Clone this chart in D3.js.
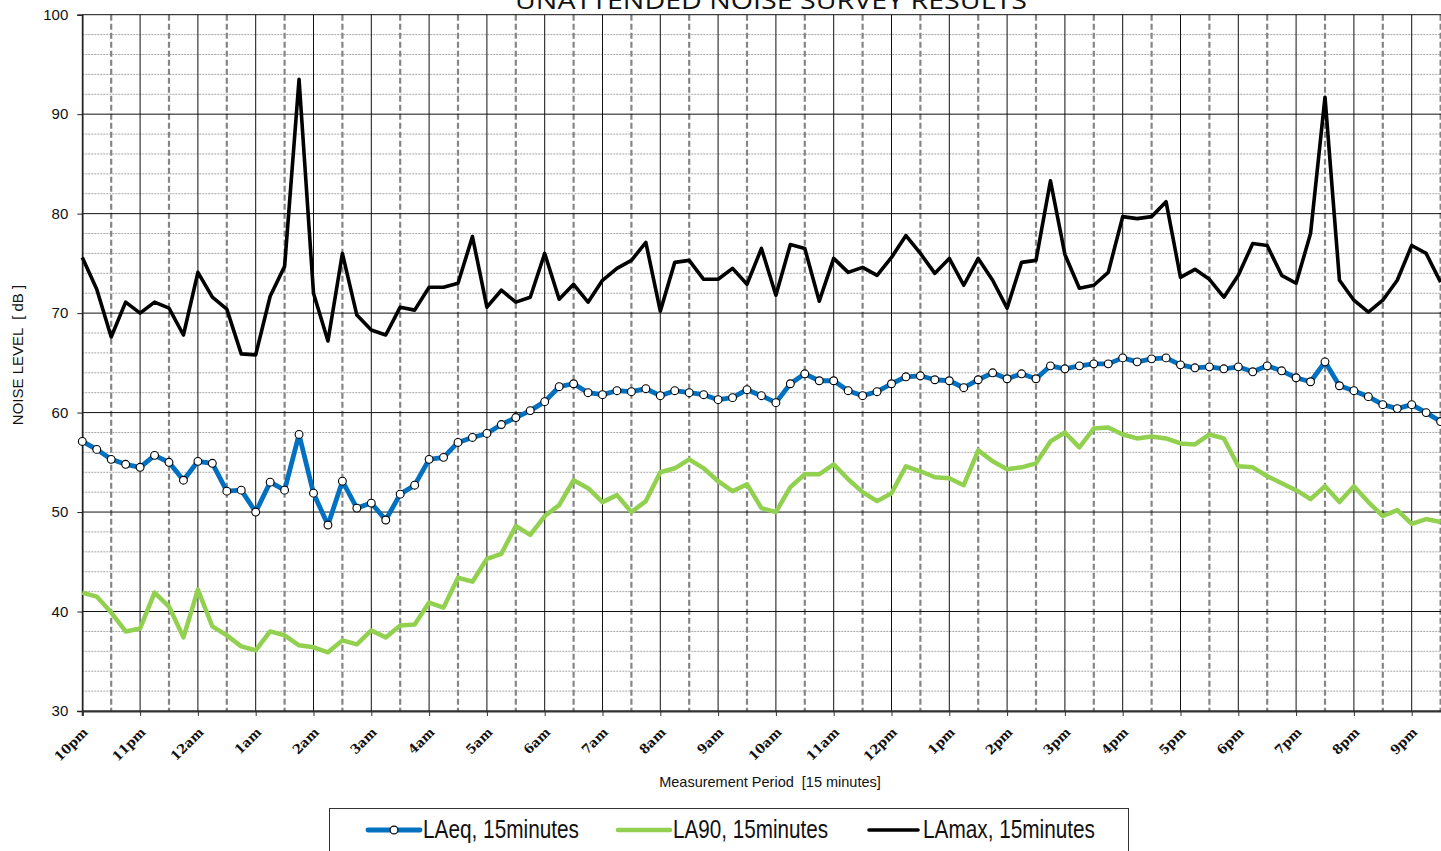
<!DOCTYPE html>
<html><head><meta charset="utf-8">
<script src="https://cdn.jsdelivr.net/npm/d3@7"></script>
<style>body{margin:0;background:#fff;overflow:hidden}svg{display:block}</style>
</head><body>
<script>
// ---- data (15-minute periods starting 10pm) ----
const hourLabels = ["10pm","11pm","12am","1am","2am","3am","4am","5am","6am","7am","8am","9am",
  "10am","11am","12pm","1pm","2pm","3pm","4pm","5pm","6pm","7pm","8pm","9pm"];
const laeq = [57.1,56.3,55.3,54.8,54.5,55.7,55.0,53.2,55.1,54.9,52.1,52.2,50.0,53.0,52.2,57.8,51.9,48.7,53.1,50.4,
  50.9,49.2,51.8,52.7,55.3,55.5,57.0,57.5,57.9,58.8,59.5,60.2,61.1,62.6,62.9,62.0,61.8,62.2,62.1,62.4,
  61.7,62.2,62.0,61.8,61.3,61.5,62.3,61.7,61.0,62.9,63.9,63.2,63.2,62.2,61.7,62.1,62.9,63.6,63.7,63.3,
  63.2,62.5,63.3,64.0,63.4,63.9,63.4,64.7,64.4,64.7,64.9,64.9,65.5,65.1,65.4,65.5,64.8,64.5,64.6,64.4,
  64.6,64.1,64.7,64.2,63.5,63.1,65.1,62.7,62.2,61.6,60.8,60.4,60.8,60.0,59.1];
const la90 = [41.9,41.5,39.9,38.0,38.3,41.9,40.5,37.4,42.2,38.5,37.6,36.5,36.1,38.0,37.6,36.6,36.4,35.9,37.1,36.7,
  38.1,37.4,38.6,38.7,40.9,40.4,43.4,43.0,45.3,45.8,48.6,47.7,49.6,50.7,53.2,52.4,51.0,51.7,50.0,51.1,
  54.0,54.4,55.3,54.4,53.1,52.1,52.8,50.4,50.0,52.5,53.8,53.8,54.8,53.3,52.0,51.1,51.9,54.6,54.1,53.5,
  53.4,52.7,56.2,55.1,54.3,54.5,54.9,57.1,58.0,56.5,58.4,58.5,57.8,57.4,57.6,57.4,56.9,56.8,57.8,57.4,
  54.6,54.5,53.6,52.9,52.2,51.3,52.6,51.0,52.6,51.0,49.6,50.2,48.8,49.3,49.0];
const lamax = [75.6,72.4,67.6,71.1,70.0,71.1,70.5,67.8,74.1,71.6,70.4,65.9,65.8,71.7,74.7,93.5,72.0,67.2,76.0,69.8,
  68.3,67.8,70.6,70.3,72.6,72.6,73.0,77.7,70.6,72.3,71.1,71.6,76.0,71.4,72.9,71.1,73.3,74.5,75.3,77.1,
  70.2,75.1,75.3,73.4,73.4,74.5,72.9,76.5,71.8,76.9,76.5,71.2,75.5,74.1,74.6,73.8,75.6,77.8,76.0,74.0,
  75.5,72.8,75.5,73.3,70.5,75.1,75.3,83.3,75.9,72.5,72.8,74.1,79.7,79.5,79.7,81.2,73.6,74.4,73.4,71.6,
  73.8,77.0,76.8,73.8,73.0,78.0,91.7,73.3,71.3,70.1,71.3,73.3,76.8,76.0,73.1];
const yTicks = [30,40,50,60,70,80,90,100];
const seriesNames = ["LAeq, 15minutes","LA90, 15minutes","LAmax, 15minutes"];

// ---- layout ----
const W = 1441, H = 851;
const svg = d3.select("body").append("svg").attr("width", W).attr("height", H);
const x = d3.scaleLinear().domain([0, 95]).range([82.3, 82.3 + 95 * 14.45]);
const y = d3.scaleLinear().domain([30, 100]).range([711, 14.7]);
const pL = x(0), pR = x(95), pT = y(100), pB = y(30);

const g = svg.append("g");
// minor horizontal grid (every 2 dB)
const minor = d3.range(30, 101, 2).filter(v => v % 10 !== 0);
g.selectAll(".hmin").data(minor).join("line")
  .attr("x1", pL).attr("x2", pR).attr("y1", d => y(d)).attr("y2", d => y(d))
  .attr("stroke", "#a6a6a6").attr("stroke-width", 1).attr("stroke-dasharray", "2,1");
// half-hour dashed verticals
const halfIdx = d3.range(0, 24).map(h => h * 4 + 2);
g.selectAll(".vhalf").data(halfIdx).join("line")
  .attr("x1", d => x(d)).attr("x2", d => x(d)).attr("y1", pT).attr("y2", pB)
  .attr("stroke", "#858585").attr("stroke-width", 2.2).attr("stroke-dasharray", "6,3");
// hour solid verticals
const hourIdx = d3.range(0, 24).map(h => h * 4);
g.selectAll(".vhour").data(hourIdx).join("line")
  .attr("x1", d => x(d)).attr("x2", d => x(d)).attr("y1", pT).attr("y2", pB)
  .attr("stroke", "#111").attr("stroke-width", 1);
// major horizontal grid
g.selectAll(".hmaj").data(yTicks).join("line")
  .attr("x1", pL).attr("x2", pR).attr("y1", d => y(d)).attr("y2", d => y(d))
  .attr("stroke", "#111").attr("stroke-width", 1);

// axes
const yAxis = d3.axisLeft(y).tickValues(yTicks).tickSize(5).tickPadding(9);
const ya = svg.append("g").attr("transform", `translate(${pL},0)`).call(yAxis);
ya.select(".domain").attr("stroke", "#222").attr("stroke-width", 1.5);
ya.selectAll("line").attr("stroke", "#222");
ya.selectAll("text").attr("font-family", "'Liberation Sans', Arial, sans-serif").attr("font-size", 15).attr("fill", "#111");

const xAxis = d3.axisBottom(x).tickValues(hourIdx).tickSize(5).tickFormat((d, i) => hourLabels[i]);
const xa = svg.append("g").attr("transform", `translate(0,${pB})`).call(xAxis);
xa.select(".domain").attr("stroke", "#333").attr("stroke-width", 2.2);
xa.selectAll("line").attr("stroke", "#333");
xa.selectAll("text")
  .attr("font-family", "'DejaVu Serif', 'Liberation Serif', serif").attr("font-weight", "bold")
  .attr("font-size", 13).attr("fill", "#111")
  .attr("text-anchor", "end").attr("dy", null).attr("y", 0)
  .attr("transform", "translate(6,22) rotate(-45)");

// lines
const line = d3.line().x((d, i) => x(i)).y(d => y(d)).curve(d3.curveLinear);
const plot = svg.append("g");
plot.append("path").datum(la90).attr("d", line).attr("fill", "none")
  .attr("stroke", "#92d050").attr("stroke-width", 4.5).attr("stroke-linejoin", "round");
plot.append("path").datum(lamax).attr("d", line).attr("fill", "none")
  .attr("stroke", "#000").attr("stroke-width", 3.6).attr("stroke-linejoin", "round");
plot.append("path").datum(laeq).attr("d", line).attr("fill", "none")
  .attr("stroke", "#0070c0").attr("stroke-width", 4.8).attr("stroke-linejoin", "round");
plot.selectAll(".mk").data(laeq).join("circle")
  .attr("cx", (d, i) => x(i)).attr("cy", d => y(d)).attr("r", 3.9)
  .attr("fill", "#fff").attr("stroke", "#000").attr("stroke-width", 1.1);

// title & axis titles
svg.append("text").attr("x", 771).attr("y", 9).attr("text-anchor", "middle")
  .attr("font-family", "'Open Sans', 'Liberation Sans', sans-serif").attr("font-size", 24)
  .attr("textLength", 512).attr("lengthAdjust", "spacingAndGlyphs")
  .attr("fill", "#111").text("UNATTENDED NOISE SURVEY RESULTS");
svg.append("text").attr("transform", "translate(23,355) rotate(-90)").attr("text-anchor", "middle")
  .attr("font-family", "'Liberation Sans', Arial, sans-serif").attr("font-size", 15).attr("fill", "#111")
  .attr("xml:space", "preserve").text("NOISE LEVEL  [ dB ]");
svg.append("text").attr("x", 770).attr("y", 787).attr("text-anchor", "middle")
  .attr("font-family", "'Liberation Sans', Arial, sans-serif").attr("font-size", 14.5).attr("fill", "#111")
  .attr("xml:space", "preserve").text("Measurement Period  [15 minutes]");

// legend
const lg = svg.append("g");
lg.append("rect").attr("x", 329.5).attr("y", 808.5).attr("width", 799).attr("height", 80)
  .attr("fill", "#fff").attr("stroke", "#333").attr("stroke-width", 1);
const legendItems = [
  {name: seriesNames[0], color: "#0070c0", w: 4.8, x0: 368, x1: 420, tx: 423, tl: 156, marker: true},
  {name: seriesNames[1], color: "#92d050", w: 4.5, x0: 618, x1: 670, tx: 673, tl: 155, marker: false},
  {name: seriesNames[2], color: "#000", w: 3.6, x0: 869, x1: 918, tx: 923, tl: 172, marker: false}
];
legendItems.forEach(it => {
  lg.append("line").attr("x1", it.x0).attr("x2", it.x1).attr("y1", 830).attr("y2", 830)
    .attr("stroke", it.color).attr("stroke-width", it.w).attr("stroke-linecap", "round");
  if (it.marker) lg.append("circle").attr("cx", (it.x0 + it.x1) / 2).attr("cy", 830).attr("r", 3.9)
    .attr("fill", "#fff").attr("stroke", "#000").attr("stroke-width", 1.1);
  lg.append("text").attr("x", it.tx).attr("y", 838)
    .attr("font-family", "'Liberation Sans', Arial, sans-serif").attr("font-size", 25).attr("fill", "#111")
    .attr("textLength", it.tl).attr("lengthAdjust", "spacingAndGlyphs").text(it.name);
});
</script>
</body></html>
